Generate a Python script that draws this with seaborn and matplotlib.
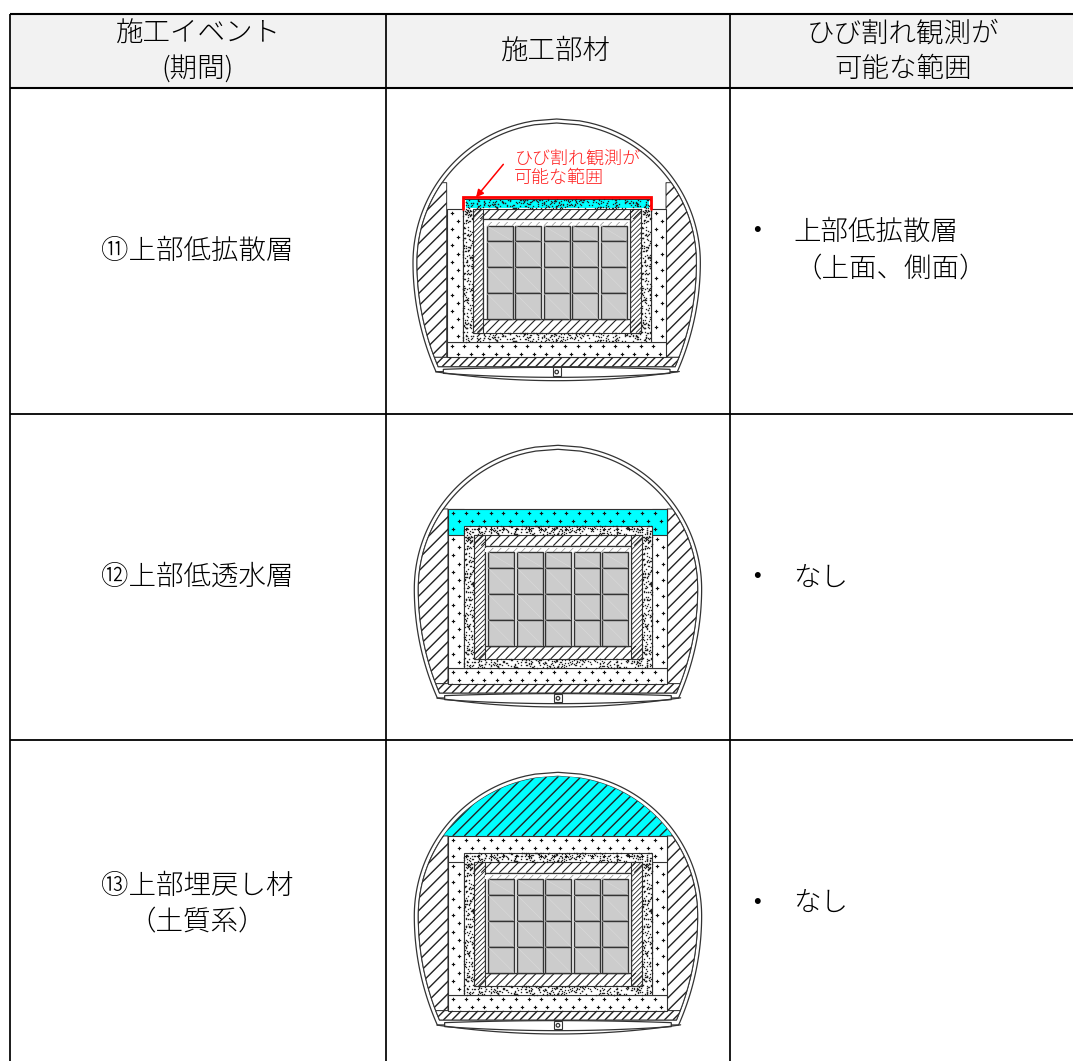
import numpy as np
import matplotlib
matplotlib.use("Agg")
import matplotlib.pyplot as plt
from matplotlib.patches import Polygon, Rectangle, Circle
from matplotlib.collections import LineCollection
import seaborn as sns

HEADERS = [["施工イベント", "(期間)"], ["施工部材"], ["ひび割れ観測が", "可能な範囲"]]
EVENTS = [["⑪上部低拡散層"], ["⑫上部低透水層"], ["⑬上部埋戻し材", "（土質系）"]]
RANGES = [["上部低拡散層", "（上面、側面）"], ["なし"], ["なし"]]
ANNOTATION = ["ひび割れ観測が", "可能な範囲"]
PACKAGE_COLS = [(260, 338), (346, 424), (431, 509), (517, 595), (602, 680)]
PACKAGE_ROWS = [347, 394, 472, 550, 628]
HIGHLIGHT = ["top_stipple", "top_layer", "crown"]
COL_LINES = [10, 386, 729.5]
ROW_LINES = [13.5, 88, 414, 739.5]
ORIGINS = [(400.0, 110.0), (401.3, 436.3), (401.3, 763.3)]

sns.set_theme(style="white")
plt.rcParams["font.family"] = ["Noto Sans CJK JP", "DejaVu Sans"]

INK = "#333333"
CYAN = "#00ffff"
fig = plt.figure(figsize=(10.73, 10.61), dpi=100)
ax = fig.add_axes([0, 0, 1, 1])
ax.set_xlim(0, 1073)
ax.set_ylim(1061, 0)
ax.axis("off")

CX, CY, R_TOP, R_SIDE = 470.0, 458.0, 431.0, 809.0


def left_x(y, off):
    y = np.asarray(y, float)
    top = CX - np.sqrt(np.maximum((R_TOP - off) ** 2 - (CY - y) ** 2, 0))
    cl = CX - R_TOP + R_SIDE
    low = cl - np.sqrt((R_SIDE - off) ** 2 - (y - CY) ** 2)
    return np.where(y < CY, top, low)


def to_abs(pts, org):
    pts = np.asarray(pts, float)
    return np.column_stack([org[0] + pts[:, 0] / 3, org[1] + pts[:, 1] / 3])


def poly(pts, org, fc="white", ec=INK, lw=0.7, z=2):
    p = Polygon(to_abs(pts, org), closed=True, fc=fc, ec=ec, lw=lw, zorder=z)
    ax.add_patch(p)
    return p


def rect(x0, y0, x1, y1, org, **kw):
    return poly([(x0, y0), (x1, y0), (x1, y1), (x0, y1)], org, **kw)


def hatch(patch, pts, org, spacing, lw=1.0, z=2.5, color="#222222"):
    a = to_abs(pts, org)
    xmin, ymin = a.min(0)
    xmax, ymax = a.max(0)
    h = ymax - ymin
    segs = [[(s, ymax), (s + h, ymin)] for s in np.arange(xmin - h, xmax, spacing)]
    lc = LineCollection(segs, colors=color, linewidths=lw, zorder=z)
    ax.add_collection(lc)
    lc.set_clip_path(patch)


def hatched_rect(x0, y0, x1, y1, org, spacing, lw, z):
    pts = [(x0, y0), (x1, y0), (x1, y1), (x0, y1)]
    hatch(poly(pts, org, lw=0.8, z=z), pts, org, spacing, lw=lw, z=z + 0.05)


def coarse(x0, y0, x1, y1, org, z=3):
    a = to_abs([(x0, y0), (x1, y1)], org)
    xs, ys = [], []
    for j, y in enumerate(np.arange(a[0, 1] + 4, a[1, 1] - 1, 8.2)):
        for x in np.arange(a[0, 0] + 5 + (j % 2) * 6.3, a[1, 0] - 2, 12.6):
            xs.append(x)
            ys.append(y)
    sns.scatterplot(x=np.array(xs), y=np.array(ys), ax=ax, marker="P", s=6,
                    color="#111111", linewidth=0, legend=False, zorder=z)
    ax.collections[-1].set_snap(False)


def stipple(x0, y0, x1, y1, org, z=3, density=0.17):
    a = to_abs([(x0, y0), (x1, y1)], org)
    w, h = a[1] - a[0]
    n = int(w * h * density)
    i = np.arange(1, n + 1)
    xs = a[0, 0] + w * ((np.sin(i * 12.9898) * 43758.5453) % 1)
    ys = a[0, 1] + h * ((np.sin(i * 78.233) * 24634.6345) % 1)
    sns.scatterplot(x=xs, y=ys, ax=ax, marker="s", s=0.9, color="#222222",
                    linewidth=0, legend=False, zorder=z)
    ax.collections[-1].set_snap(False)


def tunnel(org, kind):
    # outer ring
    ys = np.r_[np.linspace(27, CY, 80), np.linspace(CY, 785, 60)]
    lx = left_x(ys, 0)
    outer = np.r_[np.column_stack([lx[::-1], ys[::-1]]), np.column_stack([2 * CX - lx, ys])]
    poly(outer, org, fc="white", lw=0.9, z=1)
    ys = np.r_[np.linspace(39, CY, 80), np.linspace(CY, 770, 60)]
    lx = left_x(ys, 12)
    inner = np.r_[np.column_stack([lx[::-1], ys[::-1]]), np.column_stack([2 * CX - lx, ys])]
    poly(inner, org, fc="white", lw=0.9, z=1.1)

    # side backfill hatch
    yy = np.linspace(218, 742, 60)
    lx = left_x(yy, 12)
    pts = np.r_[np.column_stack([lx, yy]), [(140, 742), (140, 218)]]
    hatch(poly(pts, org, lw=0.7), pts, org, 12.5)
    pts = np.r_[np.column_stack([2 * CX - lx, yy]), [(798, 742), (798, 218)]]
    hatch(poly(pts, org, lw=0.7), pts, org, 12.5)
    # floor hatch strip
    yy = np.array([742, 770])
    lx = left_x(yy, 12)
    pts = [(lx[0], 742), (2 * CX - lx[0], 742), (2 * CX - lx[1], 770), (lx[1], 770)]
    hatch(poly(pts, org, lw=0.7), pts, org, 8.5)

    # invert band
    xs = np.linspace(130, 810, 60)
    t = (xs - CX) / 340
    band = np.r_[np.column_stack([xs, 772 + 6 * t ** 2]),
                 np.column_stack([xs[::-1], (790 + 12 * (1 - t ** 2))[::-1]])]
    poly(band, org, fc="white", lw=0.9, z=2.2)
    xs = np.linspace(107, 838, 60)
    t = (xs - CX) / 365
    outer_curve = to_abs(np.column_stack([xs, 785 + 27 * (1 - t ** 2)]), org)
    ax.plot(outer_curve[:, 0], outer_curve[:, 1], color=INK, lw=0.9, zorder=2.2)
    rect(458, 772, 482, 798, org, lw=0.8, z=2.4)
    c = to_abs([(470, 786)], org)[0]
    ax.add_patch(Circle(c, 1.8, fc="white", ec=INK, lw=0.9, zorder=2.5))

    # coarse dotted layer
    top = 296 if kind == "top_stipple" else 218
    rect(140, 695, 798, 742, org, lw=0.8)
    rect(140, top, 188, 695, org, lw=0.8)
    rect(752, top, 798, 695, org, lw=0.8)
    coarse(140, 695, 798, 742, org)
    if kind != "top_stipple":
        fc = CYAN if kind == "top_layer" else "white"
        rect(140, 218, 798, 296, org, fc=fc, lw=0.8, z=2.1)
        coarse(140, 218, 798, 296, org)
    coarse(140, 296, 188, 695, org)
    coarse(752, 296, 798, 695, org)

    # fine stipple layer
    rect(188, 268, 752, 695, org, fc="white", lw=0.8, z=2.2)
    if kind == "top_stipple":
        rect(197, 270, 748, 295, org, fc=CYAN, ec="none", lw=0, z=2.25)
    stipple(188, 268, 752, 296, org)
    stipple(188, 668, 752, 695, org)
    stipple(188, 296, 218, 668, org)
    stipple(722, 296, 752, 668, org)

    # hatched concrete ring
    hatched_rect(218, 296, 722, 328, org, 9.0, 0.8, 2.6)
    hatched_rect(218, 628, 722, 668, org, 9.0, 0.8, 2.6)
    hatched_rect(218, 296, 250, 668, org, 5.0, 0.6, 2.62)
    hatched_rect(690, 296, 722, 668, org, 5.0, 0.6, 2.62)
    rect(250, 328, 690, 628, org, lw=0.9, z=2.8)
    pts = [(252, 335), (688, 335), (688, 347), (252, 347)]
    hatch(poly(pts, org, ec="none", lw=0, z=2.85), pts, org, 8.0, lw=0.4, z=2.9, color="#777777")

    # waste packages
    for x0, x1 in PACKAGE_COLS:
        for y0, y1 in zip(PACKAGE_ROWS[:-1], PACKAGE_ROWS[1:]):
            rect(x0, y0, x1, y1, org, fc="#cccccc", ec="#333333", lw=1.0, z=3)
            d = to_abs([(x0, y0), (x1, y1)], org)
            ax.plot(d[:, 0], d[:, 1], color="#dcdcdc", lw=0.35, zorder=3.1)

    # crown material
    if kind == "crown":
        yy = np.linspace(39, 218, 70)
        lx = left_x(yy, 12)
        pts = np.r_[np.column_stack([lx[::-1], yy[::-1]]),
                    np.column_stack([2 * CX - lx, yy])]
        hatch(poly(pts, org, fc=CYAN, ec="none", lw=0, z=1.5), pts, org, 11.5, z=1.6)


# header shading and table rules
ax.add_patch(Rectangle((COL_LINES[0], ROW_LINES[0]), 1073 - COL_LINES[0],
                       ROW_LINES[1] - ROW_LINES[0], fc="#f2f2f2", ec="none", zorder=0))
for i, y in enumerate(ROW_LINES):
    ax.plot([COL_LINES[0], 1073], [y, y], color="black", lw=1.5 if i < 2 else 1.3, zorder=5,
            solid_capstyle="butt")
for x in COL_LINES:
    ax.plot([x, x], [ROW_LINES[0], 1061], color="black", lw=1.25, zorder=5,
            solid_capstyle="butt")

for org, kind in zip(ORIGINS, HIGHLIGHT):
    tunnel(org, kind)

# red annotation on the first section
org = ORIGINS[0]
red = to_abs([(190, 297), (190, 262), (754, 262), (754, 297)], org)
ax.plot(red[:, 0], red[:, 1], color="#ff0000", lw=2.0, zorder=6, solid_joinstyle="miter")
arrow = to_abs([(310, 163), (228, 262)], org)
ax.annotate("", xy=arrow[1], xytext=arrow[0], zorder=6,
            arrowprops=dict(arrowstyle="-|>", color="#ff0000", lw=1.1, shrinkA=0, shrinkB=0,
                            mutation_scale=11))
for line, zy in zip(ANNOTATION, [145, 205]):
    p = to_abs([(343, zy)], org)[0]
    ax.text(p[0], p[1], line, color="#ff2020", fontsize=13.0, ha="left", va="center",
            fontweight="light", zorder=6)

FS = 19.8
def write(lines, x, ys, ha="center"):
    for line, y in zip(lines, ys):
        ax.text(x, y, line, fontsize=FS, ha=ha, va="center", color="black",
                fontweight="light", zorder=6)

write(HEADERS[0], 198, [34, 69])
write(HEADERS[1], 556, [51])
write(HEADERS[2], 903, [34, 69])
write(EVENTS[0], 197, [251])
write(EVENTS[1], 197, [577])
write(EVENTS[2], 197, [886, 922])
write(RANGES[0][:1], 793, [232], ha="left")
write(RANGES[0][1:], 794, [269], ha="left")
write(RANGES[1], 793, [578], ha="left")
write(RANGES[2], 793, [903], ha="left")
for y in [232, 578, 903]:
    ax.text(757, y, "・", fontsize=FS, ha="center", va="center", color="black", zorder=6)

fig.savefig("out.png", dpi=100)
